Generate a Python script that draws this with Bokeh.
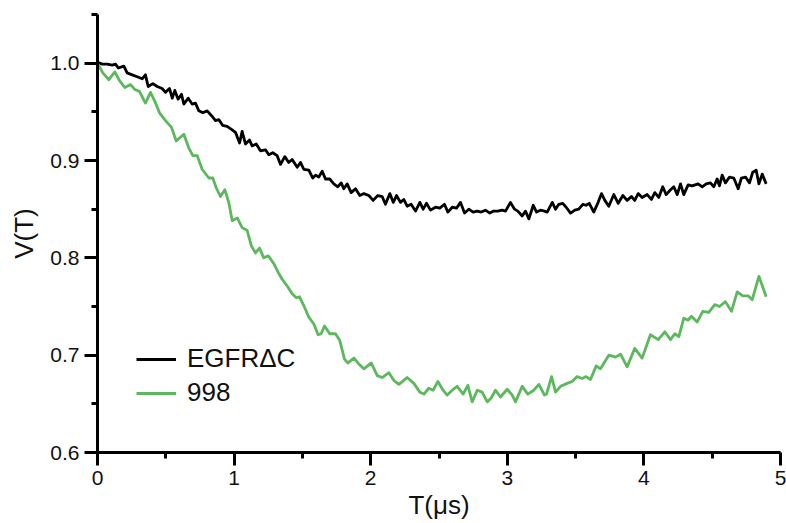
from bokeh.plotting import figure
from bokeh.models import Range1d, FixedTicker, Legend, LegendItem
from bokeh.embed import file_html
from bokeh.resources import INLINE

black_t = [0, 0.034, 0.071, 0.108, 0.132, 0.152, 0.193, 0.217, 0.254, 0.29, 0.327, 0.351, 0.371, 0.405, 0.437, 0.473, 0.498, 0.527, 0.547, 0.566, 0.59, 0.615, 0.632, 0.664, 0.693, 0.717, 0.742, 0.771, 0.803, 0.835, 0.864, 0.888, 0.917, 0.949, 0.981, 1.010, 1.04, 1.059, 1.083, 1.113, 1.132, 1.162, 1.193, 1.23, 1.254, 1.283, 1.315, 1.34, 1.371, 1.40, 1.425, 1.462, 1.486, 1.51, 1.547, 1.576, 1.596, 1.62, 1.645, 1.669, 1.70, 1.73, 1.759, 1.784, 1.803, 1.828, 1.857, 1.889, 1.92, 1.95, 1.986, 2.018, 2.052, 2.084, 2.108, 2.14, 2.165, 2.189, 2.218, 2.242, 2.267, 2.296, 2.328, 2.36, 2.384, 2.408, 2.438, 2.474, 2.506, 2.54, 2.565, 2.597, 2.628, 2.657, 2.687, 2.718, 2.75, 2.78, 2.81, 2.84, 2.872, 2.90, 2.93, 2.963, 2.987, 3.023, 3.053, 3.077, 3.109, 3.133, 3.158, 3.19, 3.214, 3.243, 3.272, 3.292, 3.329, 3.353, 3.377, 3.406, 3.431, 3.463, 3.494, 3.523, 3.553, 3.577, 3.60, 3.633, 3.665, 3.69, 3.714, 3.743, 3.78, 3.812, 3.846, 3.877, 3.909, 3.933, 3.958, 3.987, 4.024, 4.055, 4.08, 4.109, 4.138, 4.163, 4.195, 4.219, 4.244, 4.268, 4.292, 4.324, 4.353, 4.397, 4.427, 4.456, 4.487, 4.512, 4.536, 4.553, 4.573, 4.597, 4.627, 4.658, 4.69, 4.714, 4.744, 4.773, 4.797, 4.822, 4.842, 4.866, 4.895]
black_v = [1.001, 0.999, 0.999, 0.998, 0.999, 0.995, 0.997, 0.990, 0.988, 0.986, 0.984, 0.988, 0.976, 0.979, 0.976, 0.974, 0.970, 0.974, 0.964, 0.972, 0.963, 0.968, 0.958, 0.964, 0.958, 0.959, 0.951, 0.949, 0.951, 0.946, 0.941, 0.942, 0.936, 0.935, 0.932, 0.929, 0.918, 0.930, 0.917, 0.921, 0.915, 0.917, 0.910, 0.911, 0.906, 0.908, 0.905, 0.896, 0.904, 0.898, 0.901, 0.893, 0.898, 0.891, 0.890, 0.882, 0.885, 0.883, 0.889, 0.881, 0.881, 0.876, 0.873, 0.877, 0.871, 0.876, 0.867, 0.871, 0.864, 0.866, 0.864, 0.859, 0.864, 0.863, 0.855, 0.866, 0.857, 0.864, 0.857, 0.860, 0.853, 0.855, 0.848, 0.857, 0.850, 0.856, 0.849, 0.852, 0.851, 0.855, 0.847, 0.852, 0.851, 0.857, 0.846, 0.850, 0.847, 0.848, 0.847, 0.849, 0.846, 0.848, 0.848, 0.849, 0.848, 0.857, 0.850, 0.848, 0.843, 0.848, 0.840, 0.854, 0.847, 0.849, 0.848, 0.847, 0.857, 0.850, 0.855, 0.856, 0.852, 0.846, 0.849, 0.850, 0.855, 0.854, 0.856, 0.847, 0.857, 0.866, 0.859, 0.853, 0.865, 0.856, 0.864, 0.859, 0.863, 0.859, 0.866, 0.862, 0.865, 0.860, 0.867, 0.862, 0.873, 0.865, 0.870, 0.873, 0.865, 0.876, 0.865, 0.875, 0.874, 0.876, 0.873, 0.876, 0.877, 0.873, 0.881, 0.874, 0.885, 0.877, 0.883, 0.882, 0.871, 0.882, 0.883, 0.877, 0.888, 0.890, 0.876, 0.886, 0.876]

green_t = [0.0, 0.039, 0.083, 0.127, 0.161, 0.20, 0.242, 0.273, 0.307, 0.351, 0.388, 0.419, 0.454, 0.498, 0.542, 0.576, 0.632, 0.668, 0.698, 0.73, 0.766, 0.815, 0.844, 0.869, 0.90, 0.932, 0.961, 0.986, 1.023, 1.059, 1.096, 1.127, 1.157, 1.186, 1.217, 1.25, 1.291, 1.323, 1.352, 1.389, 1.425, 1.455, 1.479, 1.51, 1.547, 1.584, 1.615, 1.637, 1.662, 1.70, 1.742, 1.774, 1.808, 1.833, 1.877, 1.913, 1.95, 2.004, 2.048, 2.084, 2.133, 2.17, 2.206, 2.267, 2.316, 2.36, 2.39, 2.425, 2.457, 2.492, 2.53, 2.56, 2.597, 2.633, 2.677, 2.711, 2.743, 2.78, 2.816, 2.853, 2.882, 2.913, 2.95, 2.999, 3.036, 3.06, 3.109, 3.15, 3.194, 3.231, 3.272, 3.287, 3.324, 3.353, 3.39, 3.438, 3.475, 3.511, 3.548, 3.577, 3.609, 3.651, 3.682, 3.743, 3.792, 3.829, 3.877, 3.933, 3.987, 4.048, 4.105, 4.153, 4.195, 4.226, 4.256, 4.292, 4.324, 4.348, 4.39, 4.431, 4.475, 4.519, 4.553, 4.597, 4.641, 4.683, 4.724, 4.763, 4.793, 4.842, 4.895]
green_v = [1.0, 0.990, 0.983, 0.991, 0.982, 0.975, 0.978, 0.973, 0.971, 0.959, 0.970, 0.961, 0.949, 0.941, 0.934, 0.920, 0.927, 0.913, 0.905, 0.905, 0.891, 0.882, 0.882, 0.872, 0.863, 0.870, 0.857, 0.838, 0.841, 0.831, 0.828, 0.812, 0.805, 0.810, 0.800, 0.802, 0.794, 0.785, 0.778, 0.771, 0.763, 0.759, 0.760, 0.751, 0.739, 0.732, 0.721, 0.722, 0.730, 0.722, 0.722, 0.715, 0.696, 0.692, 0.697, 0.691, 0.686, 0.692, 0.679, 0.677, 0.682, 0.674, 0.670, 0.677, 0.671, 0.662, 0.660, 0.666, 0.664, 0.673, 0.664, 0.659, 0.664, 0.668, 0.660, 0.669, 0.652, 0.664, 0.662, 0.652, 0.656, 0.664, 0.657, 0.665, 0.659, 0.652, 0.668, 0.660, 0.664, 0.670, 0.659, 0.660, 0.678, 0.662, 0.668, 0.671, 0.673, 0.678, 0.676, 0.678, 0.675, 0.689, 0.686, 0.700, 0.698, 0.701, 0.688, 0.707, 0.697, 0.721, 0.716, 0.724, 0.716, 0.722, 0.719, 0.738, 0.736, 0.740, 0.734, 0.745, 0.744, 0.752, 0.750, 0.755, 0.745, 0.765, 0.761, 0.761, 0.757, 0.781, 0.760]

x_ticks = [0, 1, 2, 3, 4, 5]
x_minor = [0.5, 1.5, 2.5, 3.5, 4.5]
y_ticks = [0.6, 0.7, 0.8, 0.9, 1.0]
y_minor = [0.65, 0.75, 0.85, 0.95, 1.05]

series_names = ["EGFR\u0394C", "998"]
series_colors = ["#000000", "#5cb85c"]

FONT = "Liberation Sans"

p = figure(width=786, height=523, output_backend="svg", toolbar_location=None,
           x_range=Range1d(0, 5), y_range=Range1d(0.6, 1.05))
p.min_border_left = 97
p.min_border_right = 6
p.min_border_top = 14
p.min_border_bottom = 71
p.outline_line_color = None
p.xgrid.visible = False
p.ygrid.visible = False
p.background_fill_color = "white"
p.border_fill_color = "white"

r1 = p.line(black_t, black_v, line_color=series_colors[0], line_width=2.8, line_join="round")
r2 = p.line(green_t, green_v, line_color=series_colors[1], line_width=2.8, line_join="round")

for ax, ticks, minor in ((p.xaxis[0], x_ticks, x_minor), (p.yaxis[0], y_ticks, y_minor)):
    ax.ticker = FixedTicker(ticks=ticks, minor_ticks=minor)
    ax.axis_line_width = 3
    ax.axis_line_color = "black"
    ax.major_tick_line_width = 3
    ax.minor_tick_line_width = 3
    ax.major_tick_line_color = "black"
    ax.minor_tick_line_color = "black"
    ax.major_tick_out = 13
    ax.major_tick_in = 0
    ax.minor_tick_out = 6
    ax.minor_tick_in = 0
    ax.major_label_text_font = FONT
    ax.major_label_text_font_size = "21px"
    ax.major_label_text_color = "#111111"
    ax.major_label_standoff = 5
    ax.axis_label_text_font = FONT
    ax.axis_label_text_font_size = "26px"
    ax.axis_label_text_font_style = "normal"
    ax.axis_label_text_color = "#111111"

p.xaxis[0].axis_label = "T(\u03bcs)"
p.yaxis[0].axis_label = "V(T)"
p.xaxis[0].axis_label_standoff = 2
p.yaxis[0].axis_label_standoff = 8
p.xaxis[0].major_label_overrides = {0: "0", 1: "1", 2: "2", 3: "3", 4: "4", 5: "5"}
p.yaxis[0].major_label_overrides = {0.6: "0.6", 0.7: "0.7", 0.8: "0.8", 0.9: "0.9", 1.0: "1.0"}

legend = Legend(items=[LegendItem(label=series_names[0], renderers=[r1]),
                       LegendItem(label=series_names[1], renderers=[r2])],
                location=(39, 44))
legend.label_text_font = FONT
legend.label_text_font_size = "26px"
legend.label_text_color = "#111111"
legend.glyph_width = 40
legend.label_standoff = 11
legend.spacing = 3
legend.padding = 0
legend.margin = 0
legend.background_fill_alpha = 0
legend.border_line_alpha = 0
p.add_layout(legend, "center")

open("out.html", "w").write(file_html(p, INLINE))
